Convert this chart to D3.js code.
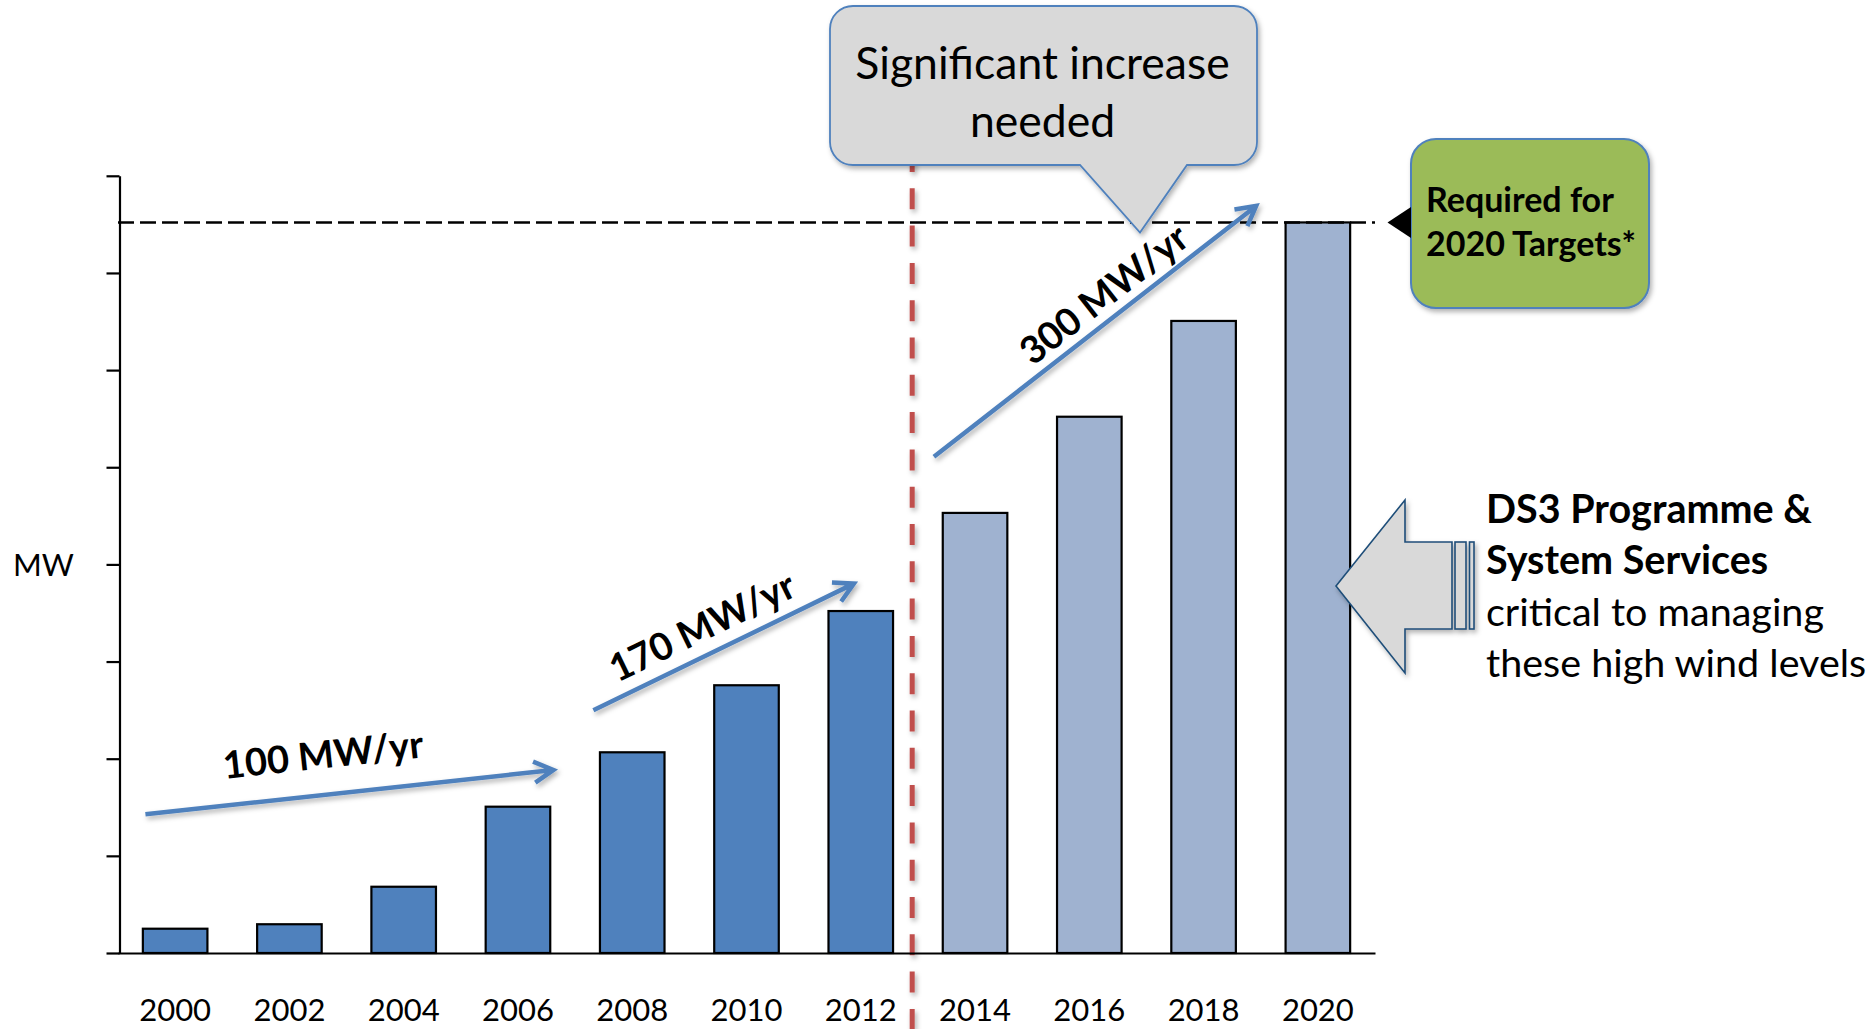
<!DOCTYPE html>
<html>
<head>
<meta charset="utf-8">
<script src="https://cdn.jsdelivr.net/npm/d3@7/dist/d3.min.js"></script>
<style>
  html, body { margin: 0; padding: 0; background: #ffffff; }
  svg { display: block; font-family: Lato, "Open Sans", sans-serif; }
</style>
</head>
<body>
<svg id="chart" width="1875" height="1029"></svg>
<script>
// ---------------- data ----------------
const years = ["2000","2002","2004","2006","2008","2010","2012","2014","2016","2018","2020"];
const windMW = [125, 148, 341, 753, 1033, 1378, 1760, 2265, 2760, 3253, 3760];
const seriesType = ["actual","actual","actual","actual","actual","actual","actual",
                    "projected","projected","projected","projected"];
const targetMW = 3760;
const yTicks = [0, 500, 1000, 1500, 2000, 2500, 3000, 3500, 4000];
const dividerYear = 2012.9;

// growth-rate annotations (in year / MW units)
const growthLabels = ["100 MW/yr", "170 MW/yr", "300 MW/yr"];
const arrowFromYear = [1999.48, 2007.32, 2013.28];
const arrowFromMW   = [714, 1249, 2554];
const arrowToYear   = [2006.62, 2011.88, 2018.92];
const arrowToMW     = [942, 1901, 3845];
const labelYear     = [2002.59, 2009.22, 2016.25];
const labelMW       = [1022, 1680, 3392];

const calloutLines = ["Significant increase", "needed"];
const targetLines = ["Required for", "2020 Targets*"];
const ds3Bold = ["DS3 Programme &", "System Services"];
const ds3Regular = ["critical to managing", "these high wind levels"];
const yAxisTitle = "MW";

// ---------------- layout ----------------
const svg = d3.select("#chart");
const W = 1875, H = 1029;
const plot = { left: 118, right: 1375, top: 175.8, bottom: 953 };

const defs = svg.append("defs");
const sh = defs.append("filter").attr("id", "shadow")
  .attr("filterUnits", "userSpaceOnUse")
  .attr("x", 0).attr("y", 0).attr("width", W).attr("height", H);
sh.append("feDropShadow").attr("dx", 2).attr("dy", 3).attr("stdDeviation", 2.5)
  .attr("flood-color", "#000").attr("flood-opacity", 0.3);

const x = d3.scaleBand().domain(years).range([plot.left, plot.right])
  .paddingInner(0.435).paddingOuter(0.2175);
const xYear = d3.scaleLinear().domain([2000, 2020])
  .range([x("2000") + x.bandwidth() / 2, x("2020") + x.bandwidth() / 2]);
const y = d3.scaleLinear().domain([0, 4000]).range([plot.bottom, plot.top]);

// red divider
const divX = xYear(dividerYear);
svg.append("line")
  .attr("x1", divX).attr("x2", divX).attr("y1", 151).attr("y2", H)
  .attr("stroke", "#c0504d").attr("stroke-width", 5)
  .attr("stroke-dasharray", "21 16.3")
  .attr("filter", "url(#shadow)");

// bars
svg.append("g").selectAll("rect").data(windMW).join("rect")
  .attr("x", (d, i) => x(years[i]))
  .attr("y", d => y(d))
  .attr("width", x.bandwidth())
  .attr("height", d => y(0) - y(d))
  .attr("fill", (d, i) => seriesType[i] === "actual" ? "#4f81bd" : "#9fb2d0")
  .attr("stroke", "#000").attr("stroke-width", 2.2);

// target dashed line
svg.append("line")
  .attr("x1", plot.left).attr("x2", plot.right)
  .attr("y1", y(targetMW)).attr("y2", y(targetMW))
  .attr("stroke", "#000").attr("stroke-width", 2.5)
  .attr("stroke-dasharray", "16 6");

// y axis
const yAxis = svg.append("g").attr("transform", `translate(${plot.left + 1.5},0)`)
  .call(d3.axisLeft(y).tickValues(yTicks).tickSize(13).tickSizeOuter(0).tickFormat(""));
yAxis.selectAll("path,line").attr("stroke", "#000").attr("stroke-width", 2.2);

// x axis
const xAxis = svg.append("g").attr("transform", `translate(0,${plot.bottom})`)
  .call(d3.axisBottom(x).tickSize(0).tickSizeOuter(0));
xAxis.select(".domain").attr("stroke", "#000").attr("stroke-width", 2.2);
xAxis.selectAll("text")
  .attr("y", 68).attr("dy", 0)
  .attr("font-family", "Lato, sans-serif").attr("font-size", 31).attr("fill", "#000");

// y axis title
svg.append("text").attr("x", 13).attr("y", 576)
  .attr("font-size", 31).attr("fill", "#000").text(yAxisTitle);

// growth arrows
const arrowG = svg.append("g").attr("filter", "url(#shadow)");
growthLabels.forEach((lab, i) => {
  const x0 = xYear(arrowFromYear[i]), y0 = y(arrowFromMW[i]);
  const x1 = xYear(arrowToYear[i]), y1 = y(arrowToMW[i]);
  const ang = Math.atan2(y1 - y0, x1 - x0);
  const L = 22, spread = 0.5;
  const ax = x1 - L * Math.cos(ang - spread), ay = y1 - L * Math.sin(ang - spread);
  const bx = x1 - L * Math.cos(ang + spread), by = y1 - L * Math.sin(ang + spread);
  arrowG.append("path")
    .attr("d", `M${x0},${y0}L${x1},${y1}M${ax},${ay}L${x1},${y1}L${bx},${by}`)
    .attr("fill", "none").attr("stroke", "#4f81bd").attr("stroke-width", 4.5)
    .attr("stroke-linejoin", "miter").attr("stroke-linecap", "butt");
  const deg = ang * 180 / Math.PI;
  svg.append("text")
    .attr("transform", `translate(${xYear(labelYear[i])},${y(labelMW[i])}) rotate(${deg})`)
    .attr("text-anchor", "middle").attr("dy", "0.36em")
    .attr("font-size", 38).attr("font-weight", 700).attr("fill", "#000")
    .text(lab);
});

// callout "Significant increase needed"
{
  const x0 = 830, x1 = 1257, y0 = 6, y1 = 165, r = 23;
  const p1 = 1080, p2 = 1187, tx = 1140, ty = 232.5;
  const d = `M${x0 + r},${y0}H${x1 - r}A${r},${r} 0 0 1 ${x1},${y0 + r}V${y1 - r}` +
    `A${r},${r} 0 0 1 ${x1 - r},${y1}H${p2}L${tx},${ty}L${p1},${y1}H${x0 + r}` +
    `A${r},${r} 0 0 1 ${x0},${y1 - r}V${y0 + r}A${r},${r} 0 0 1 ${x0 + r},${y0}Z`;
  svg.append("path").attr("d", d).attr("fill", "#d9d9d9")
    .attr("stroke", "#4f81bd").attr("stroke-width", 1.8).attr("filter", "url(#shadow)");
  svg.append("g").selectAll("text").data(calloutLines).join("text")
    .attr("x", (x0 + x1) / 2 - 1).attr("y", (d, i) => 79 + i * 58)
    .attr("text-anchor", "middle").attr("font-size", 44.5).attr("fill", "#000")
    .text(d => d);
}

// green target box
{
  const bx = 1411, by = 139, bw = 238, bh = 169;
  svg.append("rect").attr("x", bx).attr("y", by).attr("width", bw).attr("height", bh)
    .attr("rx", 25).attr("ry", 25)
    .attr("fill", "#9bbb59").attr("stroke", "#4f81bd").attr("stroke-width", 2)
    .attr("filter", "url(#shadow)");
  const ty = y(targetMW);
  svg.append("path").attr("d", `M${bx - 23.5},${ty}L${bx},${ty - 15.5}L${bx},${ty + 15.5}Z`)
    .attr("fill", "#000");
  svg.append("g").selectAll("text").data(targetLines).join("text")
    .attr("x", 1426).attr("y", (d, i) => 212 + i * 43.5)
    .attr("font-size", 34).attr("font-weight", 700).attr("fill", "#000")
    .text(d => d);
}

// gray block arrow (pointing left)
{
  const tipX = 1336, tipY = 586, headX = 1405, headTop = 500, headBot = 673;
  const shTop = 542, shBot = 629, shR = 1452;
  const g = svg.append("g").attr("filter", "url(#shadow)");
  g.append("path")
    .attr("d", `M${tipX},${tipY}L${headX},${headTop}V${shTop}H${shR}V${shBot}H${headX}V${headBot}Z`)
    .attr("fill", "#d9d9d9").attr("stroke", "#1f4e79").attr("stroke-width", 1.6);
  g.append("rect").attr("x", 1455).attr("y", shTop).attr("width", 11).attr("height", shBot - shTop)
    .attr("fill", "#d9d9d9").attr("stroke", "#1f4e79").attr("stroke-width", 1.6);
  g.append("rect").attr("x", 1469.5).attr("y", shTop).attr("width", 4.5).attr("height", shBot - shTop)
    .attr("fill", "#d9d9d9").attr("stroke", "#1f4e79").attr("stroke-width", 1.6);
}

// DS3 text
{
  const tx = 1486, base = 522.5, lh = 51.5;
  const lines = ds3Bold.map(t => ({ t, b: true })).concat(ds3Regular.map(t => ({ t, b: false })));
  svg.append("g").selectAll("text").data(lines).join("text")
    .attr("x", tx).attr("y", (d, i) => base + i * lh)
    .attr("font-size", 39.5).attr("font-weight", d => d.b ? 700 : 400).attr("fill", "#000")
    .text(d => d.t);
}
</script>
</body>
</html>
